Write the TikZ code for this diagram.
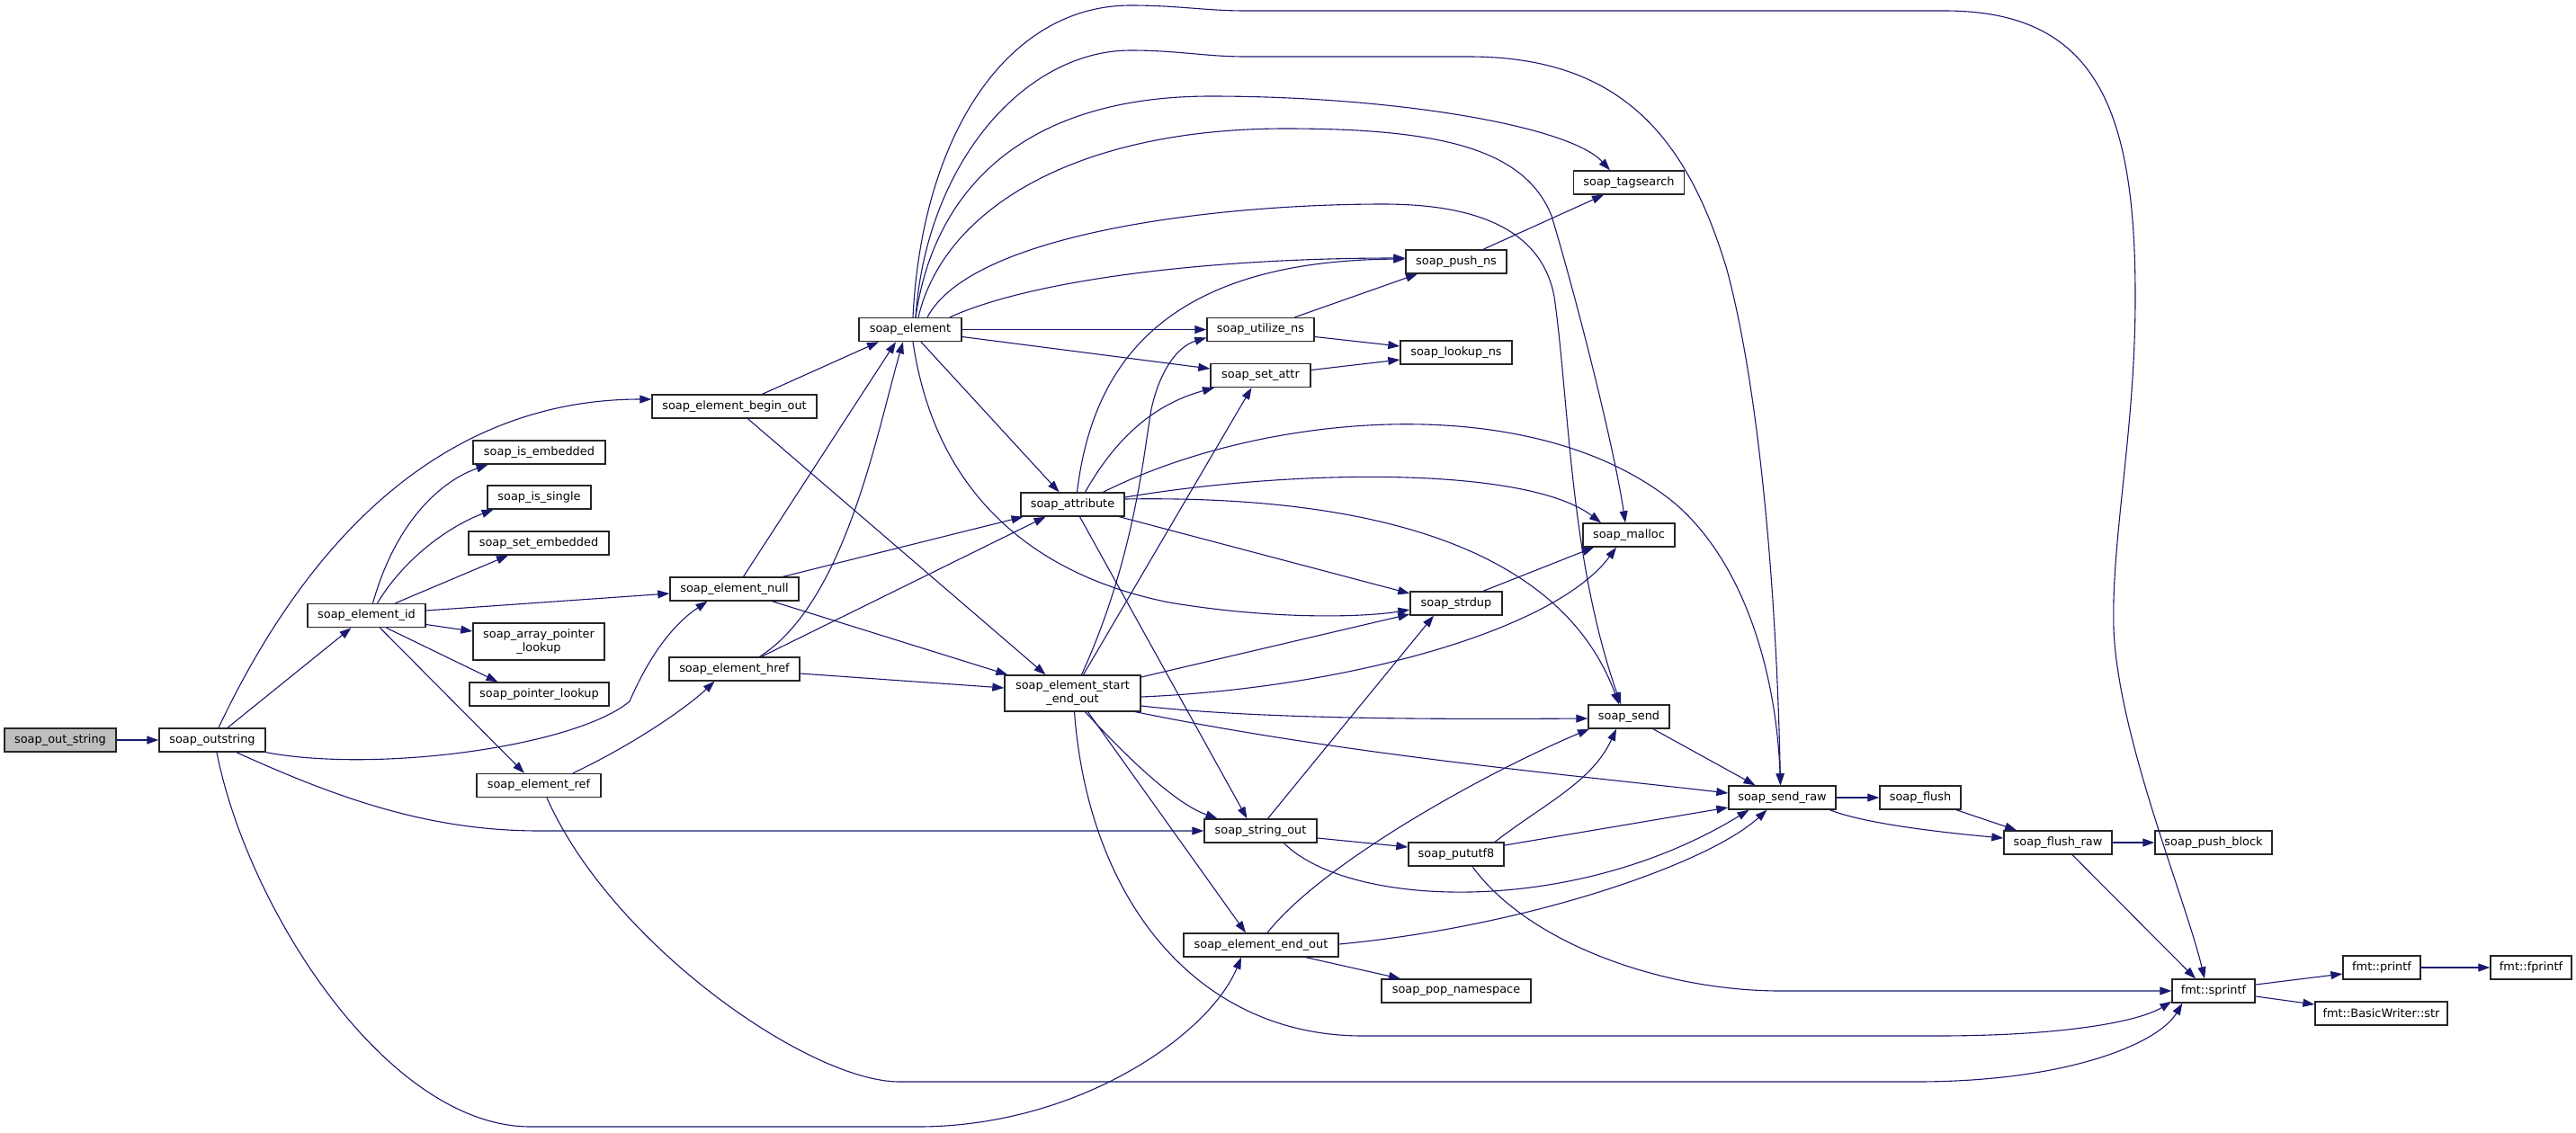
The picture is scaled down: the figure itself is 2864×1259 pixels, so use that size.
\documentclass[tikz,border=0pt]{standalone}
\usepackage{fontspec}
\setmainfont{DejaVu Sans}
\usetikzlibrary{arrows.meta}
\definecolor{ecol}{HTML}{191970}
\definecolor{rootfill}{HTML}{BFBFBF}
\begin{document}
\begin{tikzpicture}[x=1pt,y=-1pt,
  fn/.style={draw=black!85, line width=1.4pt, fill=white, inner sep=0pt, minimum height=26pt, font=\fontsize{12.9}{15}\selectfont, align=center},
  cg/.style={draw=ecol, line width=1.1pt, -{Triangle[length=13pt,width=9pt]}}]
\useasboundingbox (0,0) rectangle (2864,1259);
\fill[white] (0,0) rectangle (2864,1259);
% nodes
\node[fn, fill=rootfill, minimum width=124pt] (outs) at (67,823) {soap\_out\_string};
\node[fn, minimum width=118pt] (outstr) at (236,823) {soap\_outstring};
\node[fn, minimum width=131pt] (eid) at (407.5,684.5) {soap\_element\_id};
\node[fn, minimum width=183pt] (bout) at (816.5,452) {soap\_element\_begin\_out};
\node[fn, minimum width=147pt] (isemb) at (599.5,503) {soap\_is\_embedded};
\node[fn, minimum width=115pt] (issing) at (599.5,553) {soap\_is\_single};
\node[fn, minimum width=156pt] (setemb) at (599,604) {soap\_set\_embedded};
\node[fn, minimum width=146pt, minimum height=41pt] (apl) at (599,713.5) {soap\_array\_pointer\\\_lookup};
\node[fn, minimum width=155pt] (pl) at (599.5,772) {soap\_pointer\_lookup};
\node[fn, minimum width=138pt] (eref) at (599,873.5) {soap\_element\_ref};
\node[fn, minimum width=143pt] (enull) at (816.5,655) {soap\_element\_null};
\node[fn, minimum width=145pt] (ehref) at (816.5,744) {soap\_element\_href};
\node[fn, minimum width=114pt] (elem) at (1012,366.5) {soap\_element};
\node[fn, minimum width=115pt] (attr) at (1192.5,561) {soap\_attribute};
\node[fn, minimum width=151pt, minimum height=40pt] (seeo) at (1192.5,771) {soap\_element\_start\\\_end\_out};
\node[fn, minimum width=119pt] (utns) at (1401.5,366.5) {soap\_utilize\_ns};
\node[fn, minimum width=111pt] (setattr) at (1401.5,417.5) {soap\_set\_attr};
\node[fn, minimum width=125pt] (strout) at (1401.5,924) {soap\_string\_out};
\node[fn, minimum width=172pt] (eeo) at (1402,1051) {soap\_element\_end\_out};
\node[fn, minimum width=112pt] (pushns) at (1619,291) {soap\_push\_ns};
\node[fn, minimum width=124pt] (lookupns) at (1619,392) {soap\_lookup\_ns};
\node[fn, minimum width=102pt] (strdup) at (1619,671) {soap\_strdup};
\node[fn, minimum width=106pt] (pututf8) at (1619,950) {soap\_pututf8};
\node[fn, minimum width=166pt] (popns) at (1619,1102) {soap\_pop\_namespace};
\node[fn, minimum width=123pt] (tagsearch) at (1811,203) {soap\_tagsearch};
\node[fn, minimum width=102pt] (malloc) at (1811,595) {soap\_malloc};
\node[fn, minimum width=90pt] (send) at (1811,797) {soap\_send};
\node[fn, minimum width=119pt] (sendraw) at (1981.5,887) {soap\_send\_raw};
\node[fn, minimum width=90pt] (flush) at (2135,887) {soap\_flush};
\node[fn, minimum width=120pt] (flushraw) at (2288,937) {soap\_flush\_raw};
\node[fn, minimum width=130pt] (pushblock) at (2461,937) {soap\_push\_block};
\node[fn, minimum width=92pt] (sprintf) at (2461,1102) {fmt::sprintf};
\node[fn, minimum width=86pt] (printf) at (2648,1076) {fmt::printf};
\node[fn, minimum width=90pt] (fprintf) at (2814,1076) {fmt::fprintf};
\node[fn, minimum width=147pt] (bwstr) at (2647.5,1127) {fmt::BasicWriter::str};
% edges from soap_out_string / soap_outstring
\draw[cg] (outs.east) -- (outstr.west);
\draw[cg] ([xshift=7pt]outstr.north) .. controls (380,520) and (560,444) .. ([yshift=8pt]bout.west);
\draw[cg] ([xshift=17pt]outstr.north) -- ([xshift=-17pt]eid.south);
\draw[cg] (outstr.south east) .. controls (420,860) and (640,830) .. (700,780) .. controls (715,745) and (740,700) .. ([xshift=-30pt]enull.south);
\draw[cg] ([xshift=27pt]outstr.south) .. controls (380,890) and (480,924) .. (600,924) -- (strout.west);
\draw[cg] ([xshift=5pt]outstr.south) .. controls (275,1010) and (430,1253) .. (590,1253) -- (1020,1253) .. controls (1200,1253) and (1345,1150) .. ([xshift=-22pt]eeo.south);
% soap_element_begin_out
\draw[cg] ([xshift=31pt]bout.north) -- ([xshift=-35pt]elem.south);
\draw[cg] ([xshift=15pt]bout.south) -- ([xshift=-30pt]seeo.north);
% soap_element_id
\draw[cg] ([xshift=7pt]eid.north) .. controls (440,580) and (490,535) .. ([xshift=-57pt]isemb.south);
\draw[cg] ([xshift=12pt]eid.north) .. controls (450,620) and (500,585) .. ([xshift=-51pt]issing.south);
\draw[cg] ([xshift=32pt]eid.north) -- ([xshift=-34pt]setemb.south);
\draw[cg] ([yshift=5.5pt]eid.east) -- ([yshift=-5pt]enull.west);
\draw[cg] ([yshift=-10pt]eid.east) -- ([yshift=11.5pt]apl.west);
\draw[cg] ([xshift=22pt]eid.south) -- ([xshift=-46pt]pl.north);
\draw[cg] ([xshift=15pt]eid.south) -- ([xshift=-16pt]eref.north);
% soap_element_ref
\draw[cg] ([xshift=38pt]eref.north) .. controls (700,830) and (760,790) .. ([xshift=-22pt]ehref.south);
\draw[cg] ([xshift=9pt]eref.south) .. controls (680,1050) and (900,1203) .. (1000,1203) -- (2130,1203) .. controls (2300,1203) and (2400,1160) .. ([xshift=12pt]sprintf.south west);
% soap_element_null
\draw[cg] ([xshift=10pt]enull.north) -- ([xshift=-16pt]elem.south);
\draw[cg] ([xshift=54pt]enull.north) -- ([xshift=-55pt]attr.south);
\draw[cg] ([xshift=42pt]enull.south) -- ([xshift=4pt]seeo.north west);
% soap_element_href
\draw[cg] ([xshift=28pt]ehref.north) .. controls (940,670) and (975,480) .. ([xshift=-8pt]elem.south);
\draw[cg] ([xshift=30pt]ehref.north) -- ([xshift=-30pt]attr.south);
\draw[cg] ([yshift=-5pt]ehref.east) -- ([yshift=6pt]seeo.west);
% soap_element
\draw[cg] ([xshift=3pt]elem.north) .. controls (1025,150) and (1120,6) .. (1257,6) .. controls (1310,6) and (1340,12) .. (1385,12) -- (2162,12) .. controls (2330,12) and (2374,120) .. (2374,330) .. controls (2374,480) and (2347,600) .. (2350,700) .. controls (2355,820) and (2430,1000) .. ([xshift=-10pt]sprintf.north);
\draw[cg] ([xshift=6pt]elem.north) .. controls (1030,180) and (1140,56) .. (1257,56) .. controls (1310,56) and (1340,63) .. (1385,63) -- (1633,63) .. controls (1800,63) and (1875,150) .. (1920,300) .. controls (1955,430) and (1975,650) .. ([xshift=-2pt]sendraw.north);
\draw[cg] ([xshift=6pt]elem.north) .. controls (1040,200) and (1150,107) .. (1346,107) .. controls (1550,107) and (1745,140) .. ([xshift=-21pt]tagsearch.north);
\draw[cg] ([xshift=9pt]elem.north) .. controls (1050,230) and (1200,143) .. (1429,143) .. controls (1600,143) and (1695,165) .. (1725,240) .. controls (1755,340) and (1795,500) .. ([xshift=-4pt]malloc.north);
\draw[cg] ([xshift=19pt]elem.north) .. controls (1080,260) and (1350,227) .. (1538,227) .. controls (1650,227) and (1715,260) .. (1728,330) .. controls (1745,450) and (1745,620) .. ([xshift=-9pt]send.north);
\draw[cg] ([xshift=44pt]elem.north) .. controls (1150,310) and (1350,287) .. ([yshift=4pt]pushns.west);
\draw[cg] (elem.east) -- (utns.west);
\draw[cg] ([yshift=-8pt]elem.east) -- ([yshift=7.5pt]setattr.west);
\draw[cg] ([xshift=12pt]elem.south) -- ([xshift=-15pt]attr.north);
\draw[cg] ([xshift=3pt]elem.south) .. controls (1040,550) and (1150,640) .. (1300,670) .. controls (1420,690) and (1520,686) .. ([yshift=-7pt]strdup.west);
% soap_attribute
\draw[cg] ([xshift=5pt]attr.north) .. controls (1215,400) and (1300,290) .. ([yshift=3pt]pushns.west);
\draw[cg] ([xshift=14pt]attr.north) .. controls (1250,470) and (1300,445) .. ([xshift=-51.5pt]setattr.south);
\draw[cg] ([xshift=34pt]attr.north) .. controls (1400,460) and (1700,430) .. (1860,558) .. controls (1940,625) and (1975,750) .. ([xshift=-2pt]sendraw.north);
\draw[cg] ([yshift=8pt]attr.east) .. controls (1450,520) and (1700,520) .. ([xshift=-31pt]malloc.north);
\draw[cg] ([yshift=6pt]attr.east) .. controls (1550,550) and (1740,620) .. ([xshift=-11pt]send.north);
\draw[cg] ([xshift=52pt]attr.south) -- ([yshift=11pt]strdup.west);
\draw[cg] ([xshift=8pt]attr.south) -- ([xshift=-15pt]strout.north);
% soap_element_start_end_out
\draw[cg] ([xshift=10pt]seeo.north) .. controls (1262,620) and (1272,500) .. (1280,455) .. controls (1290,410) and (1310,385) .. ([yshift=-9pt]utns.west);
\draw[cg] ([xshift=12pt]seeo.north) -- ([xshift=-10pt]setattr.south);
\draw[cg] ([yshift=-4pt]seeo.east) .. controls (1500,765) and (1730,700) .. ([xshift=-14pt]malloc.south);
\draw[cg] ([yshift=18pt]seeo.east) -- ([yshift=-12pt]strdup.west);
\draw[cg] ([yshift=-14pt]seeo.east) .. controls (1400,800) and (1600,800) .. ([yshift=-2pt]send.west);
\draw[cg] ([xshift=70pt]seeo.south) .. controls (1500,840) and (1750,862) .. ([yshift=5pt]sendraw.west);
\draw[cg] ([xshift=14pt]seeo.south) .. controls (1260,850) and (1310,895) .. ([xshift=-48pt]strout.north);
\draw[cg] ([xshift=17pt]seeo.south) -- ([xshift=-17pt]eeo.north);
\draw[cg] ([xshift=2pt]seeo.south) .. controls (1210,1000) and (1330,1152) .. (1515,1152) -- (2153,1152) .. controls (2300,1152) and (2380,1135) .. ([yshift=2pt]sprintf.south west);
% soap_element_end_out
\draw[cg] ([xshift=7pt]eeo.north) .. controls (1470,960) and (1650,860) .. ([xshift=-44pt]send.south);
\draw[cg] ([yshift=1pt]eeo.east) .. controls (1700,1030) and (1900,960) .. ([xshift=-17pt]sendraw.south);
\draw[cg] ([xshift=50pt]eeo.south) -- ([xshift=-62pt]popns.north);
% soap_string_out
\draw[cg] ([xshift=8pt]strout.north) -- ([xshift=-25pt]strdup.south);
\draw[cg] ([yshift=-8pt]strout.east) -- ([yshift=8pt]pututf8.west);
\draw[cg] ([xshift=26pt]strout.south) .. controls (1500,1010) and (1750,1020) .. ([xshift=-37pt]sendraw.south);
% soap_pututf8
\draw[cg] ([xshift=43pt]pututf8.north) .. controls (1715,895) and (1770,870) .. ([xshift=-14pt]send.south);
\draw[cg] ([yshift=10pt]pututf8.east) -- ([yshift=-11pt]sendraw.west);
\draw[cg] ([xshift=18pt]pututf8.south) .. controls (1700,1050) and (1850,1102) .. (1980,1102) -- (sprintf.west);
% others
\draw[cg] ([xshift=30pt]strdup.north) -- ([xshift=-39pt]malloc.south);
\draw[cg] ([xshift=27pt]send.south) -- ([xshift=-30pt]sendraw.north);
\draw[cg] (sendraw.east) -- (flush.west);
\draw[cg] ([xshift=53pt]sendraw.south) .. controls (2070,915) and (2150,925) .. ([yshift=5pt]flushraw.west);
\draw[cg] ([xshift=40pt]flush.south) -- ([xshift=-46pt]flushraw.north);
\draw[cg] (flushraw.east) -- (pushblock.west);
\draw[cg] ([xshift=16pt]flushraw.south) -- ([xshift=-20pt]sprintf.north);
\draw[cg] ([xshift=30pt]pushns.north) -- ([xshift=-28pt]tagsearch.south);
\draw[cg] ([xshift=38pt]utns.north) -- ([xshift=-43pt]pushns.south);
\draw[cg] ([yshift=-8pt]utns.east) -- ([yshift=7pt]lookupns.west);
\draw[cg] ([yshift=6pt]setattr.east) -- ([yshift=-8pt]lookupns.west);
\draw[cg] ([yshift=7pt]sprintf.east) -- ([yshift=-7pt]printf.west);
\draw[cg] ([yshift=-6pt]sprintf.east) -- ([yshift=10pt]bwstr.west);
\draw[cg] (printf.east) -- (fprintf.west);
\end{tikzpicture}
\end{document}
